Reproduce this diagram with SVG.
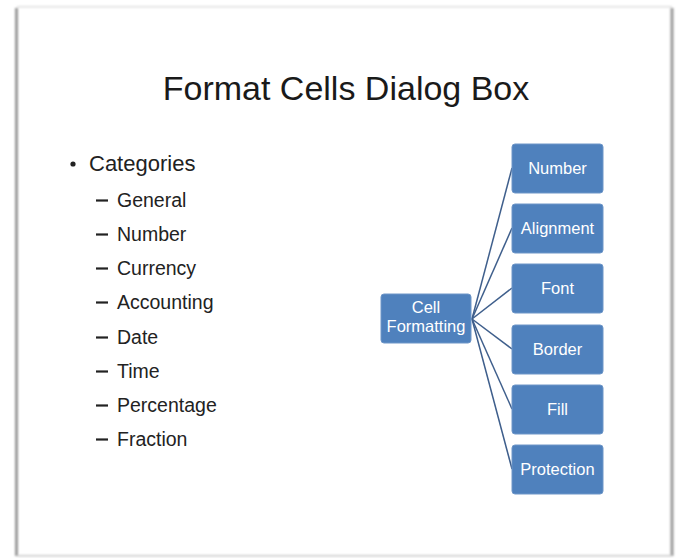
<svg xmlns="http://www.w3.org/2000/svg" width="678" height="558" viewBox="0 0 678 558">
  <defs>
    <filter id="blur" filterUnits="userSpaceOnUse" x="0" y="0" width="678" height="558">
      <feGaussianBlur stdDeviation="0.8"/>
    </filter>
  </defs>
  <style>
    .title { font-family: "Liberation Sans", Arial, sans-serif; font-size: 34px; fill: #1a1a1a; }
    .bul { font-family: "Liberation Sans", Arial, sans-serif; font-size: 22px; fill: #222; }
    .item { font-family: "Liberation Sans", Arial, sans-serif; font-size: 19.5px; fill: #222; }
    .dash { stroke: #222; stroke-width: 2.2; }
    .box { fill: #4F81BD; stroke: #6E96C8; stroke-width: 1; }
    .lbl { font-family: "Liberation Sans", Arial, sans-serif; font-size: 16.5px; fill: #ffffff; text-anchor: middle; }
    .conn { stroke: #3F5F8C; stroke-width: 1.5; fill: none; }
  </style>
  <rect x="0" y="0" width="678" height="558" fill="#ffffff"/>
  <g id="frame" filter="url(#blur)">
    <rect x="15" y="8" width="3" height="548" fill="#9a9a9a"/>
    <rect x="670.5" y="8" width="3" height="548" fill="#9a9a9a"/>
    <rect x="17" y="6" width="655" height="1.5" fill="#dddddd"/>
    <rect x="17" y="555" width="655" height="1.5" fill="#c8c8c8"/>
  </g>
  <text class="title" x="346" y="100" text-anchor="middle">Format Cells Dialog Box</text>
  <g id="list">
    <circle cx="73" cy="164" r="2.6" fill="#222"/>
    <text class="bul" x="89" y="171">Categories</text>
    <g id="dashes">
      <line class="dash" x1="96" y1="200.5" x2="108" y2="200.5"/>
      <line class="dash" x1="96" y1="234.5" x2="108" y2="234.5"/>
      <line class="dash" x1="96" y1="268.5" x2="108" y2="268.5"/>
      <line class="dash" x1="96" y1="302.5" x2="108" y2="302.5"/>
      <line class="dash" x1="96" y1="337.5" x2="108" y2="337.5"/>
      <line class="dash" x1="96" y1="371.5" x2="108" y2="371.5"/>
      <line class="dash" x1="96" y1="405.5" x2="108" y2="405.5"/>
      <line class="dash" x1="96" y1="439.5" x2="108" y2="439.5"/>
    </g>
    <g class="item">
      <text x="117" y="207">General</text>
      <text x="117" y="241">Number</text>
      <text x="117" y="275">Currency</text>
      <text x="117" y="309">Accounting</text>
      <text x="117" y="344">Date</text>
      <text x="117" y="378">Time</text>
      <text x="117" y="412">Percentage</text>
      <text x="117" y="446">Fraction</text>
    </g>
  </g>
  <g id="connectors">
    <line class="conn" x1="472" y1="319" x2="512" y2="168"/>
    <line class="conn" x1="472" y1="319" x2="512" y2="228"/>
    <line class="conn" x1="472" y1="319" x2="512" y2="288"/>
    <line class="conn" x1="472" y1="319" x2="512" y2="349"/>
    <line class="conn" x1="472" y1="319" x2="512" y2="409"/>
    <line class="conn" x1="472" y1="319" x2="512" y2="469"/>
  </g>
  <g id="cell-formatting">
    <rect class="box" x="381" y="294" width="90" height="49" rx="3"/>
    <text class="lbl" x="426" y="313">Cell</text>
    <text class="lbl" x="426" y="332">Formatting</text>
  </g>
  <g id="number">
    <rect class="box" x="512" y="144" width="91" height="49" rx="3"/>
    <text class="lbl" x="557.5" y="174">Number</text>
  </g>
  <g id="alignment">
    <rect class="box" x="512" y="204" width="91" height="49" rx="3"/>
    <text class="lbl" x="557.5" y="234">Alignment</text>
  </g>
  <g id="font">
    <rect class="box" x="512" y="264" width="91" height="49" rx="3"/>
    <text class="lbl" x="557.5" y="294">Font</text>
  </g>
  <g id="border">
    <rect class="box" x="512" y="325" width="91" height="49" rx="3"/>
    <text class="lbl" x="557.5" y="355">Border</text>
  </g>
  <g id="fill">
    <rect class="box" x="512" y="385" width="91" height="49" rx="3"/>
    <text class="lbl" x="557.5" y="415">Fill</text>
  </g>
  <g id="protection">
    <rect class="box" x="512" y="445" width="91" height="49" rx="3"/>
    <text class="lbl" x="557.5" y="475">Protection</text>
  </g>
</svg>
